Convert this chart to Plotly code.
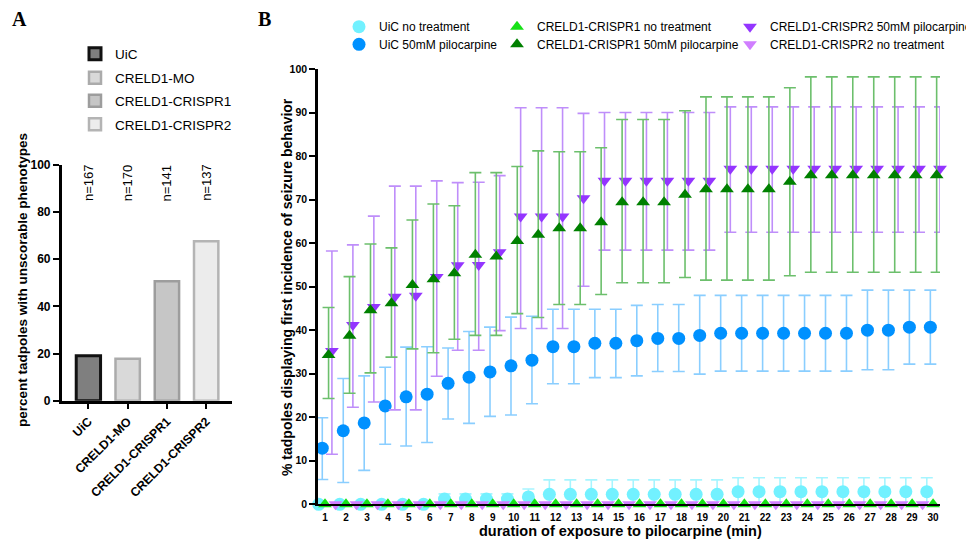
import plotly.graph_objects as go

# ---------------- Panel A data ----------------
groups_a = ["UiC", "CRELD1-MO", "CRELD1-CRISPR1", "CRELD1-CRISPR2"]
pct_unscorable = [19.1, 17.8, 50.7, 67.6]
n_labels = ["n=167", "n=170", "n=141", "n=137"]
y_ticks_a = [0, 20, 40, 60, 80, 100]

# ---------------- Panel B data ----------------
minutes = [1, 2, 3, 4, 5, 6, 7, 8, 9, 10, 11, 12, 13, 14, 15,
           16, 17, 18, 19, 20, 21, 22, 23, 24, 25, 26, 27, 28, 29, 30]
y_ticks_b = [0, 10, 20, 30, 40, 50, 60, 70, 80, 90, 100]

uic_none = [0, 0, 0, 0, 0, 0, 1.2, 1.2, 1.2, 1.2, 1.7, 2.3, 2.3, 2.3, 2.3,
            2.3, 2.3, 2.3, 2.3, 2.3, 2.9, 2.9, 2.9, 2.9, 2.9, 2.9, 2.9, 2.9, 2.9, 2.9]
uic_none_hi = [0, 0, 0, 0, 0, 0, 2.4, 2.4, 2.4, 2.4, 3.5, 5.6, 5.6, 5.6, 5.6,
               5.6, 5.6, 5.6, 5.6, 5.6, 6.1, 6.1, 6.1, 6.1, 6.1, 6.1, 6.1, 6.1, 6.1, 6.1]

uic_pilo = [12.9, 16.9, 18.7, 22.6, 24.7, 25.3, 27.8, 29.2, 30.4, 31.8, 33.1, 36.2, 36.2, 37.0, 37.0,
            37.6, 38.1, 38.1, 38.8, 39.3, 39.3, 39.3, 39.3, 39.3, 39.3, 39.3, 40.0, 40.0, 40.7, 40.7]
uic_pilo_hi = [19.9, 28.9, 29.5, 31.5, 36.1, 36.2, 35.9, 39.7, 40.7, 43.0, 43.2, 44.8, 44.8, 44.8, 44.8,
               45.7, 45.9, 45.9, 48.0, 48.0, 48.0, 48.0, 48.0, 48.0, 48.0, 48.0, 49.2, 49.2, 49.2, 49.2]
uic_pilo_lo = [5.7, 5.0, 7.8, 13.8, 13.4, 14.2, 19.6, 18.6, 20.2, 20.5, 23.1, 27.7, 27.7, 29.1, 29.1,
               29.5, 30.5, 30.5, 29.9, 30.6, 30.6, 30.6, 30.6, 30.6, 30.6, 30.6, 30.9, 30.9, 32.2, 32.2]

crispr1_none = [0] * 30
crispr2_none = [0] * 30

crispr1_pilo = [34.3, 38.7, 44.6, 46.2, 50.4, 51.7, 53.1, 57.3, 56.9, 60.5, 61.9, 63.4, 63.4, 64.8, 69.4,
                69.4, 69.4, 71.1, 72.4, 72.4, 72.4, 72.4, 74.1, 75.6, 75.6, 75.6, 75.6, 75.6, 75.6, 75.6]
crispr1_pilo_hi = [45.2, 52.3, 59.8, 58.9, 65.3, 69.0, 68.6, 76.2, 76.2, 77.6, 81.2, 81.0, 81.0, 81.9, 88.4,
                   88.4, 88.4, 90.4, 93.6, 93.6, 93.6, 93.6, 95.7, 98.2, 98.2, 98.2, 98.2, 98.2, 98.2, 98.2]
crispr1_pilo_lo = [24.3, 25.5, 30.2, 33.8, 35.7, 34.8, 37.9, 38.8, 38.8, 43.8, 42.9, 45.9, 45.9, 48.2, 50.9,
                   50.9, 50.9, 52.1, 51.5, 51.5, 51.5, 51.5, 52.5, 53.3, 53.3, 53.3, 53.3, 53.3, 53.3, 53.3]

crispr2_pilo = [35.2, 41.2, 45.3, 47.7, 47.9, 52.2, 54.9, 55.0, 57.9, 66.1, 66.1, 66.1, 70.3, 74.3, 74.3,
                74.3, 74.3, 74.3, 74.3, 77.1, 77.1, 77.1, 77.1, 77.1, 77.1, 77.1, 77.1, 77.1, 77.1, 77.1]
crispr2_pilo_hi = [58.2, 59.6, 66.2, 73.1, 73.1, 74.3, 73.9, 74.0, 75.5, 91.1, 91.1, 91.1, 89.8, 90.0, 90.0,
                   90.0, 90.0, 90.0, 90.0, 91.3, 91.3, 91.3, 91.3, 91.3, 91.3, 91.3, 91.3, 91.3, 91.3, 91.3]
crispr2_pilo_lo = [11.5, 22.3, 23.5, 21.7, 21.7, 29.4, 35.4, 35.4, 39.9, 40.4, 40.4, 40.4, 50.1, 58.4, 58.4,
                   58.4, 58.4, 58.4, 58.4, 62.5, 62.5, 62.5, 62.5, 62.5, 62.5, 62.5, 62.5, 62.5, 62.5, 62.5]

# ---------------- styling ----------------
W, H = 974, 549
PAGE_OFF = 8  # default body margin of the html page
FONT = "Liberation Sans, Arial, sans-serif"
SERIF = "Liberation Serif, Times New Roman, serif"


def px_x(p):
    return (p - PAGE_OFF) / W


def px_y(p):
    return 1 - (p - PAGE_OFF) / H


fig = go.Figure()

# Panel A bars (each its own legend so the rows can be placed exactly)
bar_fill = ["#7f7f7f", "#d9d9d9", "#c6c6c6", "#ececec"]
bar_line = ["#111111", "#ababab", "#9d9d9d", "#b4b4b4"]
bar_lw = [3, 2.5, 2.5, 2.5]
bar_legends = ["legend", "legend8", "legend9", "legend10"]
for i, g in enumerate(groups_a):
    fig.add_trace(go.Bar(
        x=[g], y=[pct_unscorable[i]], name=g, width=0.62,
        marker=dict(color=bar_fill[i], line=dict(color=bar_line[i], width=bar_lw[i])),
        xaxis="x", yaxis="y", legend=bar_legends[i], showlegend=True,
    ))


def diffs(mean, hi, lo=None):
    up = [h - m for h, m in zip(hi, mean)]
    if lo is None:
        dn = up
    else:
        dn = [m - l for m, l in zip(mean, lo)]
    return up, dn


series = [
    # name, y, hi, lo, offset, symbol, color, errcolor, size, legend
    ("UiC no treatment", uic_none, uic_none_hi, None, -0.30, "circle", "#72F1FF", "#A6F5FF", 13, "legend2"),
    ("UiC 50mM pilocarpine", uic_pilo, uic_pilo_hi, uic_pilo_lo, -0.13, "circle", "#0091FF", "#8ACEFF", 13, "legend3"),
    ("CRELD1-CRISPR2 no treatment", crispr2_none, None, None, 0.50, "triangle-down", "#D07EFF", None, 12, "legend7"),
    ("CRELD1-CRISPR1 no treatment", crispr1_none, None, None, 0.0, "triangle-up", "#17E117", None, 12, "legend4"),
    ("CRELD1-CRISPR2 50mM pilocarpine", crispr2_pilo, crispr2_pilo_hi, crispr2_pilo_lo, 0.33, "triangle-down", "#9435FF", "#BF8EFA", 12, "legend6"),
    ("CRELD1-CRISPR1 50mM pilocarpine", crispr1_pilo, crispr1_pilo_hi, crispr1_pilo_lo, 0.17, "triangle-up", "#008000", "#6CBF6C", 12, "legend5"),
]

for name, y, hi, lo, off, sym, col, ecol, size, lg in series:
    err = None
    if hi is not None:
        up, dn = diffs(y, hi, lo)
        err = dict(type="data", array=up, arrayminus=dn, symmetric=False,
                   color=ecol, thickness=1.6, width=6)
    fig.add_trace(go.Scatter(
        x=[m + off for m in minutes], y=y, mode="markers", name=name,
        marker=dict(symbol=sym, color=col, size=size, line=dict(width=0)),
        error_y=err, cliponaxis=False,
        xaxis="x2", yaxis="y2", legend=lg, showlegend=True,
    ))

# ---------------- layout ----------------
axis_line = dict(showline=True, linecolor="black", showgrid=False, zeroline=False)

layout = dict(
    width=W, height=H,
    margin=dict(l=0, r=0, t=0, b=0, autoexpand=False),
    paper_bgcolor="white", plot_bgcolor="white",
    barmode="overlay",
    font=dict(family=FONT, color="black"),
    xaxis=dict(
        domain=[px_x(61.7), px_x(231.7)], anchor="y",
        type="category", range=[-0.68, 3.65],
        tickangle=-45, ticks="outside", ticklen=6, tickwidth=2, tickcolor="black",
        tickfont=dict(size=12.3, family=FONT, weight="bold"),
        linewidth=2.5, automargin=False, **axis_line,
    ),
    yaxis=dict(
        domain=[px_y(400.7), px_y(165.0)], anchor="x",
        range=[0, 100], tickvals=y_ticks_a,
        ticks="outside", ticklen=6, tickwidth=2, tickcolor="black",
        tickfont=dict(size=12, family=FONT, weight="bold"),
        linewidth=2.5, automargin=False, **axis_line,
    ),
    xaxis2=dict(
        domain=[px_x(318), px_x(940)], anchor="y2",
        range=[0.666, 30.33], tickvals=minutes,
        ticks="outside", ticklen=3, tickcolor="rgba(0,0,0,0)",
        tickfont=dict(size=10, family=FONT, weight="bold"),
        linewidth=2, automargin=False, **axis_line,
    ),
    yaxis2=dict(
        domain=[px_y(504.3), px_y(69)], anchor="x2",
        range=[0, 100], tickvals=y_ticks_b,
        ticks="outside", ticklen=6, tickwidth=2, tickcolor="black",
        tickfont=dict(size=10.5, family=FONT, weight="bold"),
        linewidth=2.5, automargin=False, **axis_line,
    ),
)

# legend placement: (symbol centre x, row centre y) in reference pixels
leg_b = {
    "legend2": (359, 26.7), "legend3": (359, 44.3),
    "legend4": (517, 26.7), "legend5": (517, 44.3),
    "legend6": (750, 26.7), "legend7": (750, 44.3),
}
for k, (cx, cy) in leg_b.items():
    layout[k] = dict(x=px_x(cx - 20), y=px_y(cy), xanchor="left", yanchor="middle",
                     font=dict(size=12, family=FONT), bgcolor="rgba(0,0,0,0)", itemclick=False)

leg_a = {"legend": 54, "legend8": 78, "legend9": 101, "legend10": 124.5}
for k, cy in leg_a.items():
    layout[k] = dict(x=px_x(95 - 20), y=px_y(cy), xanchor="left", yanchor="middle",
                     font=dict(size=13.5, family=FONT), bgcolor="rgba(0,0,0,0)", itemclick=False)

fig.update_layout(**layout)

# n labels above the bars (panel A)
for g, lab in zip(groups_a, n_labels):
    fig.add_annotation(x=g, y=92.5, xref="x", yref="y", text=lab, textangle=-90,
                       xanchor="center", yanchor="middle",
                       showarrow=False, font=dict(size=13, family=FONT))


def paper_text(x, y, text, size, angle=0, family=FONT, bold=True):
    fig.add_annotation(x=px_x(x), y=px_y(y), xref="paper", yref="paper",
                       text=text, textangle=angle, xanchor="center", yanchor="middle",
                       showarrow=False, borderpad=0,
                       font=dict(size=size, family=family, weight="bold" if bold else "normal"))


paper_text(22, 280, "percent tadpoles with unscorable phenotypes", 13.5, angle=-90)
paper_text(287, 287, "% tadpoles displaying first incidence of seizure behavior", 14, angle=-90)
paper_text(620, 531, "duration of exposure to pilocarpine (min)", 14.5)
paper_text(19, 19, "A", 20, family=SERIF)
paper_text(264, 19, "B", 20, family=SERIF)

fig.write_html("out.html")
